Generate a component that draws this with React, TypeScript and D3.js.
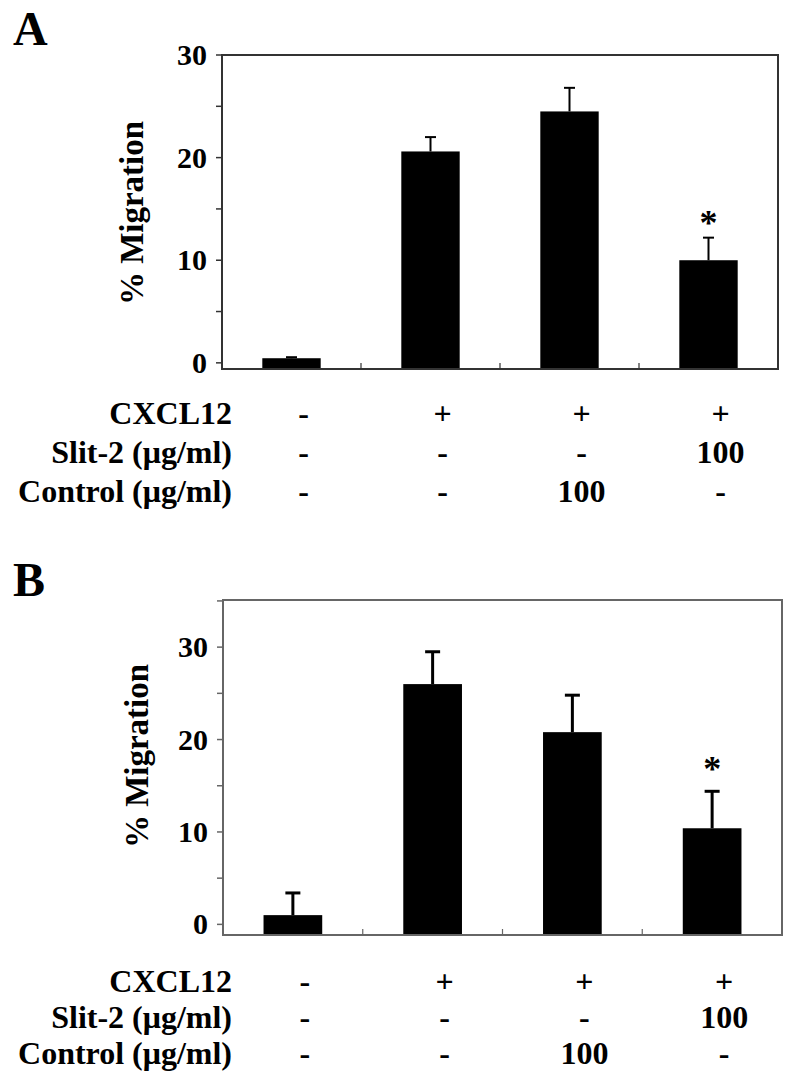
import React from 'react';
import * as d3 from 'd3';

// ---------- data ----------
const CATEGORIES = ['G1', 'G2', 'G3', 'G4'];
const ROW_LABELS = ['CXCL12', 'Slit-2 (μg/ml)', 'Control (μg/ml)'];
const CXCL12 = ['-', '+', '+', '+'];
const SLIT2 = ['-', '-', '-', '100'];
const CONTROL = ['-', '-', '100', '-'];
const ROWS = [CXCL12, SLIT2, CONTROL];

const A_MEAN = [0.45, 20.6, 24.5, 10.0];
const A_ERR = [0.1, 1.4, 2.3, 2.2];
const B_MEAN = [1.0, 26.0, 20.8, 10.4];
const B_ERR = [2.4, 3.5, 4.0, 4.0];
const SIGNIF = [false, false, false, true];

const Y_LABELS = [0, 10, 20, 30];
const A_TICKS = [0, 5, 10, 15, 20, 25, 30];
const B_TICKS = [0, 5, 10, 15, 20, 25, 30, 35];
const YTITLE = '% Migration';

const FONT = "'Liberation Serif', 'Times New Roman', Times, serif";

type PanelCfg = {
  letter: string;
  letterY: number;
  left: number;
  right: number;
  top: number;
  bottom: number;
  domain: [number, number];
  ticks: number[];
  mean: number[];
  err: number[];
  titleX: number;
  titleY: number;
  rowBase: number[];
  capW: number;
  errW: number;
  frame: string;
  starGap: number;
};

const PANELS: PanelCfg[] = [
  {
    letter: 'A', letterY: 45,
    left: 222, right: 778, top: 55, bottom: 369,
    domain: [-0.6, 30], ticks: A_TICKS, mean: A_MEAN, err: A_ERR,
    titleX: 143, titleY: 213, rowBase: [424, 463, 502],
    capW: 11, errW: 2, frame: '#333', starGap: 3,
  },
  {
    letter: 'B', letterY: 596,
    left: 223, right: 782, top: 600, bottom: 935,
    domain: [-1.15, 35.1], ticks: B_TICKS, mean: B_MEAN, err: B_ERR,
    titleX: 148, titleY: 756, rowBase: [992, 1028, 1064],
    capW: 15, errW: 3, frame: '#666', starGap: 10,
  },
];

function Panel({ p }: { p: PanelCfg }) {
  const x = d3.scaleBand<string>().domain(CATEGORIES).range([p.left, p.right]).padding(0);
  const y = d3.scaleLinear().domain(p.domain).range([p.bottom, p.top]);
  const bw = x.bandwidth() * 0.42;
  const boundaries = CATEGORIES.slice(1).map((c) => x(c)!);
  return (
    <g>
      <text x={13} y={p.letterY} fontFamily={FONT} fontWeight="bold" fontSize={48} fill="#000">
        {p.letter}
      </text>
      {/* bars */}
      {CATEGORIES.map((c, i) => {
        const cx = x(c)! + x.bandwidth() / 2;
        const yTop = y(p.mean[i]);
        const yErr = y(p.mean[i] + p.err[i]);
        return (
          <g key={c}>
            <rect x={cx - bw / 2} y={yTop} width={bw} height={p.bottom - yTop} fill="#000" />
            <line x1={cx} x2={cx} y1={yTop} y2={yErr} stroke="#000" strokeWidth={p.errW} />
            <line x1={cx - p.capW / 2} x2={cx + p.capW / 2} y1={yErr} y2={yErr} stroke="#000" strokeWidth={p.errW} />
            {SIGNIF[i] && (
              <text x={cx} y={yErr - p.starGap} textAnchor="middle" fontFamily={FONT} fontWeight="bold" fontSize={36} fill="#000">
                *
              </text>
            )}
          </g>
        );
      })}
      {/* frame */}
      <rect x={p.left} y={p.top} width={p.right - p.left} height={p.bottom - p.top} fill="none" stroke={p.frame} strokeWidth={2} />
      {/* y ticks */}
      {p.ticks.map((t) => (
        <line key={t} x1={p.left - 6} x2={p.left} y1={y(t)} y2={y(t)} stroke={p.frame} strokeWidth={1.5} />
      ))}
      {Y_LABELS.map((t) => (
        <text key={t} x={p.left - 15} y={y(t) + 10} textAnchor="end" fontFamily={FONT} fontWeight="bold" fontSize={30} fill="#000">
          {t}
        </text>
      ))}
      {/* x boundary ticks */}
      {boundaries.map((bx, i) => (
        <line key={i} x1={bx} x2={bx} y1={p.bottom} y2={p.bottom - 6} stroke={p.frame} strokeWidth={1.2} />
      ))}
      {/* y title */}
      <text
        transform={`translate(${p.titleX},${p.titleY}) rotate(-90)`}
        textAnchor="middle" fontFamily={FONT} fontWeight="bold" fontSize={33} fill="#000"
      >
        {YTITLE}
      </text>
      {/* condition table */}
      {ROW_LABELS.map((lab, r) => (
        <g key={lab}>
          <text x={232} y={p.rowBase[r]} textAnchor="end" fontFamily={FONT} fontWeight="bold" fontSize={32} fill="#000">
            {lab}
          </text>
          {CATEGORIES.map((c, i) => (
            <text
              key={c}
              x={x(c)! + x.bandwidth() / 2 + 12}
              y={p.rowBase[r]}
              textAnchor="middle" fontFamily={FONT} fontWeight="bold" fontSize={32} fill="#000"
            >
              {ROWS[r][i]}
            </text>
          ))}
        </g>
      ))}
    </g>
  );
}

export default function App() {
  return (
    <svg
      width={800}
      height={1087}
      viewBox="0 0 800 1087"
      style={{ position: 'absolute', left: 0, top: 0, background: '#fff' }}
    >
      <rect x={0} y={0} width={800} height={1087} fill="#fff" />
      {PANELS.map((p) => (
        <Panel key={p.letter} p={p} />
      ))}
    </svg>
  );
}
